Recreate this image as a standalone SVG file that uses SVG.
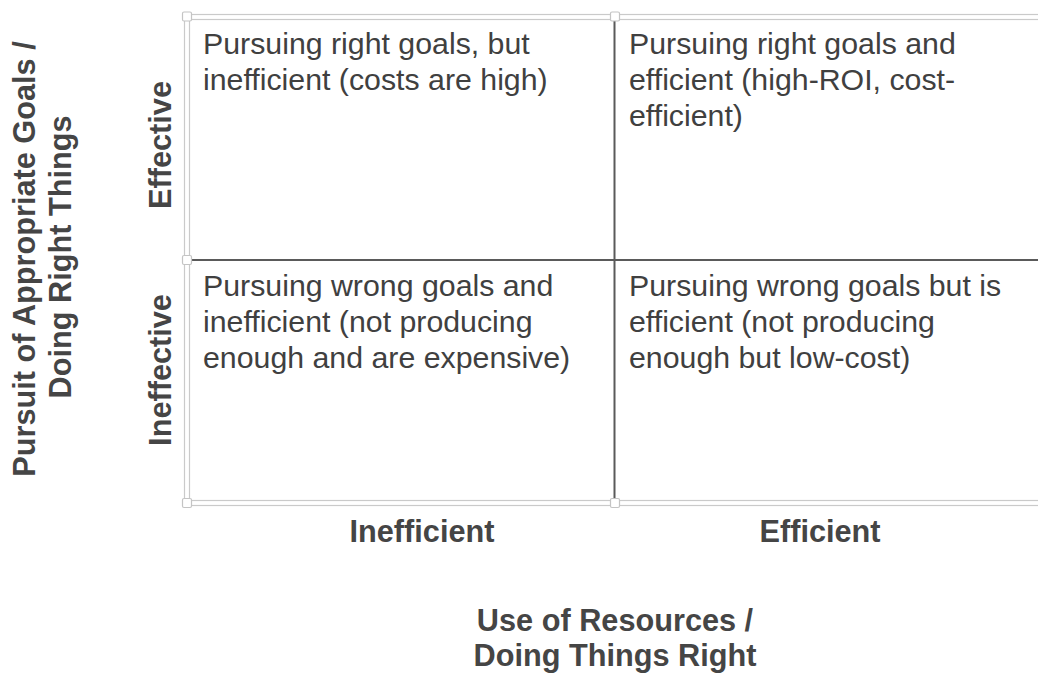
<svg xmlns="http://www.w3.org/2000/svg" width="1038" height="673" viewBox="0 0 1038 673">
<style>
.frame{fill:none;stroke:#cacaca;stroke-width:1.2}
.handle{fill:#ffffff;stroke:#c4c4c4;stroke-width:1.2}
.grid{stroke:#5a5a5a;stroke-width:2;fill:none}
.q{font-family:"Liberation Sans",Arial,sans-serif;font-size:30.3px;fill:#404040}
.ax{font-family:"Liberation Sans",Arial,sans-serif;font-size:30.7px;font-weight:bold;fill:#454545;text-anchor:middle}
</style>
<rect width="1038" height="673" fill="#ffffff"/>
<g id="frame">
<rect class="frame" x="184.5" y="14.5" width="900" height="491"/>
<rect class="frame" x="189.5" y="19.5" width="900" height="481"/>
</g>
<g id="connectors">
<line class="grid" x1="614.5" y1="20" x2="614.5" y2="500"/>
<line class="grid" x1="190" y1="260" x2="1038" y2="260"/>
</g>
<g id="handles">
<rect class="handle" x="182.5" y="12" width="9" height="9" rx="1.5"/>
<rect class="handle" x="610.5" y="12" width="9" height="9" rx="1.5"/>
<rect class="handle" x="182.5" y="255.5" width="9" height="9" rx="1.5"/>
<rect class="handle" x="182.5" y="498.5" width="9" height="9" rx="1.5"/>
<rect class="handle" x="610.5" y="498.5" width="9" height="9" rx="1.5"/>
</g>
<g id="q-effective-inefficient">
<text class="q" x="203" y="54">Pursuing right goals, but</text>
<text class="q" x="203" y="90">inefficient (costs are high)</text>
</g>
<g id="q-effective-efficient">
<text class="q" x="629" y="54">Pursuing right goals and</text>
<text class="q" x="629" y="90">efficient (high-ROI, cost-</text>
<text class="q" x="629" y="126">efficient)</text>
</g>
<g id="q-ineffective-inefficient">
<text class="q" x="203" y="296">Pursuing wrong goals and</text>
<text class="q" x="203" y="332">inefficient (not producing</text>
<text class="q" x="203" y="368">enough and are expensive)</text>
</g>
<g id="q-ineffective-efficient">
<text class="q" x="629" y="296">Pursuing wrong goals but is</text>
<text class="q" x="629" y="332">efficient (not producing</text>
<text class="q" x="629" y="368">enough but low-cost)</text>
</g>
<g id="x-labels">
<text class="ax" x="422" y="542">Inefficient</text>
<text class="ax" x="820" y="542">Efficient</text>
<text class="ax" x="615" y="631">Use of Resources /</text>
<text class="ax" x="615" y="666">Doing Things Right</text>
</g>
<g id="y-labels">
<text class="ax" transform="translate(171,145) rotate(-90)">Effective</text>
<text class="ax" transform="translate(171,370) rotate(-90)">Ineffective</text>
<text class="ax" transform="translate(35,259) rotate(-90)">Pursuit of Appropriate Goals /</text>
<text class="ax" transform="translate(71,257) rotate(-90)">Doing Right Things</text>
</g>
</svg>
